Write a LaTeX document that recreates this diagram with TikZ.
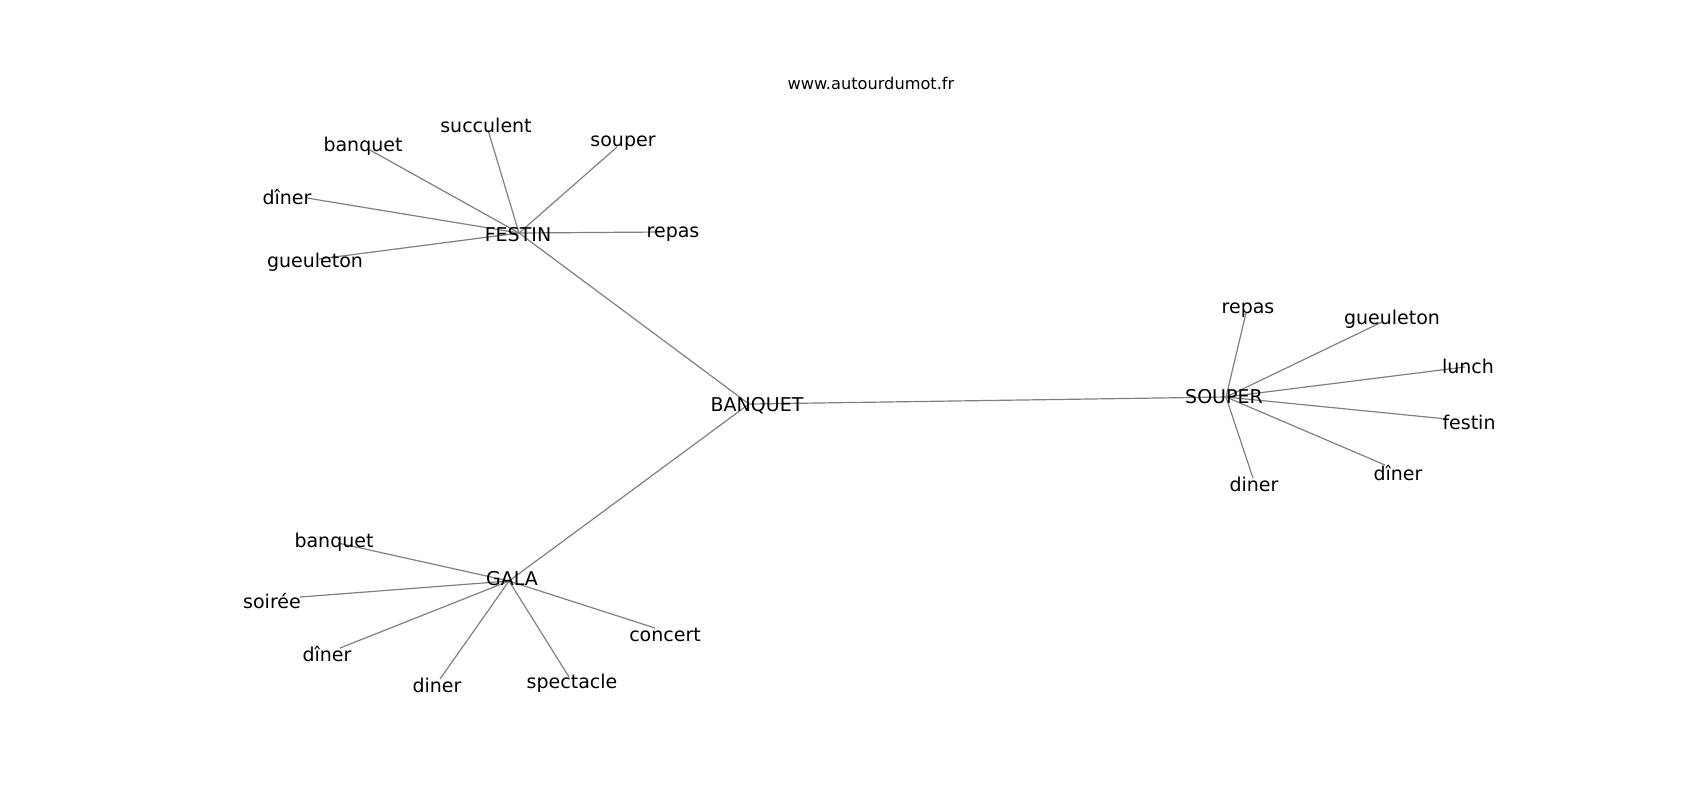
\documentclass[tikz,border=0pt]{standalone}
\usepackage{fontspec}
\setmainfont{DejaVu Sans}
\usepackage{tikz}
\tikzset{every picture/.style={line width=0.6pt}}
\tikzset{
  wordlabel/.style={anchor=center,inner sep=0pt,yshift=-1pt,font=\fontsize{9.5}{11}\selectfont},
  titlelabel/.style={anchor=center,inner sep=0pt,font=\fontsize{8.1}{10}\selectfont},
  edgeline/.style={color={rgb, 255:red, 128; green, 128; blue, 128 }}
}

\begin{document}
\begin{tikzpicture}[x=0.5pt,y=0.5pt,yscale=-1,xscale=1]
\useasboundingbox (0,0) rectangle (1700,800);

%Points of the graph
\coordinate (banquet) at (749,404);
\coordinate (festin) at (519,233);
\coordinate (gala) at (509,581);
\coordinate (souper) at (1226,397);
% festin leaves
\coordinate (f-succulent) at (488,130);
\coordinate (f-banquet) at (370,150);
\coordinate (f-souper) at (617,147);
\coordinate (f-diner) at (307,198);
\coordinate (f-repas) at (662,232);
\coordinate (f-gueuleton) at (319,259);
% gala leaves
\coordinate (g-banquet) at (338,543);
\coordinate (g-soiree) at (300,597);
\coordinate (g-diner) at (340,648);
\coordinate (g-dinerb) at (440,679);
\coordinate (g-spectacle) at (569,677);
\coordinate (g-concert) at (655,628);
% souper leaves
\coordinate (s-repas) at (1246,313);
\coordinate (s-gueuleton) at (1382,322);
\coordinate (s-lunch) at (1465,367);
\coordinate (s-festin) at (1447,419);
\coordinate (s-diner) at (1385,465);
\coordinate (s-dinerb) at (1253,478);

%Straight Lines
\draw [edgeline] (banquet) -- (festin) (banquet) -- (gala) (banquet) -- (souper);
\foreach \leaf in {succulent,banquet,souper,diner,repas,gueuleton}
  \draw [edgeline] (festin) -- (f-\leaf);
\foreach \leaf in {banquet,soiree,diner,dinerb,spectacle,concert}
  \draw [edgeline] (gala) -- (g-\leaf);
\foreach \leaf in {repas,gueuleton,lunch,festin,diner,dinerb}
  \draw [edgeline] (souper) -- (s-\leaf);

% Text Node
\node [titlelabel] (title) at (871,83) {www.autourdumot.fr};
% Text Node
\node [wordlabel] (banquet-t) at (757,404) {BANQUET};
\node [wordlabel] (festin-t) at (518,233) {FESTIN};
\node [wordlabel] (gala-t) at (512,577) {GALA};
\node [wordlabel] (souper-t) at (1224,395) {SOUPER};
% Text Node
\node [wordlabel] (f-succulent-t) at (486,123) {succulent};
\node [wordlabel] (f-banquet-t) at (363,144) {banquet};
\node [wordlabel] (f-souper-t) at (623,141) {souper};
\node [wordlabel] (f-diner-t) at (287,195) {dîner};
\node [wordlabel] (f-repas-t) at (673,232) {repas};
\node [wordlabel] (f-gueuleton-t) at (315,260) {gueuleton};
% Text Node
\node [wordlabel] (g-banquet-t) at (334,540) {banquet};
\node [wordlabel] (g-soiree-t) at (272,599) {soirée};
\node [wordlabel] (g-diner-t) at (327,652) {dîner};
\node [wordlabel] (g-dinerb-t) at (437,683) {diner};
\node [wordlabel] (g-spectacle-t) at (572,681) {spectacle};
\node [wordlabel] (g-concert-t) at (665,633) {concert};
% Text Node
\node [wordlabel] (s-repas-t) at (1248,308) {repas};
\node [wordlabel] (s-gueuleton-t) at (1392,317) {gueuleton};
\node [wordlabel] (s-lunch-t) at (1468,364) {lunch};
\node [wordlabel] (s-festin-t) at (1469,420) {festin};
\node [wordlabel] (s-diner-t) at (1398,471) {dîner};
\node [wordlabel] (s-dinerb-t) at (1254,482) {diner};

\end{tikzpicture}
\end{document}
